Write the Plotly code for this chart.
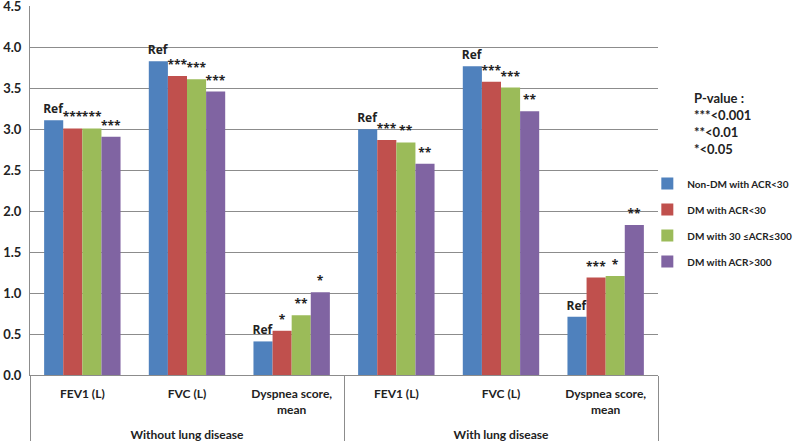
import plotly.graph_objects as go

groups = ["<br>Without lung disease"] * 3 + ["<br>With lung disease"] * 3
measures = ["FEV1 (L)", "FVC (L)", "Dyspnea score,<br>mean"] * 2

series_names = ["Non-DM with ACR<30", "DM with ACR<30", "DM with 30 ≤ACR≤300", "DM with ACR>300"]
non_dm_acr_lt30 = [3.11, 3.83, 0.41, 3.00, 3.77, 0.71]
dm_acr_lt30 = [3.01, 3.65, 0.54, 2.87, 3.58, 1.19]
dm_acr_30_300 = [3.01, 3.61, 0.73, 2.84, 3.51, 1.21]
dm_acr_gt300 = [2.91, 3.46, 1.01, 2.58, 3.22, 1.83]

sig_non_dm = ["Ref", "Ref", "Ref", "Ref", "Ref", "Ref"]
sig_dm_lt30 = ["***", "***", "*", "***", "***", "***"]
sig_dm_30_300 = ["***", "***", "**", "**", "***", "*"]
sig_dm_gt300 = ["***", "***", "*", "**", "**", "**"]

colors = ["#4F81BD", "#C0504D", "#9BBB59", "#8064A2"]
values = [non_dm_acr_lt30, dm_acr_lt30, dm_acr_30_300, dm_acr_gt300]
labels = [sig_non_dm, sig_dm_lt30, sig_dm_30_300, sig_dm_gt300]

font_family = "Lato"
bar_text_font = "Open Sans"

fig = go.Figure()
for name, vals, lab, col in zip(series_names, values, labels, colors):
    fig.add_trace(go.Bar(
        x=[groups, measures], y=vals, name=name, legendgroup=name,
        marker=dict(color=col, line=dict(width=0)),
        text=lab, textposition="outside", textangle=0,
        constraintext="none", cliponaxis=False,
        textfont=dict(family=bar_text_font, size=12, color="#222222", weight="bold"),
    ))

fig.update_layout(
    width=793, height=441,
    margin=dict(l=30, r=135, t=6, b=66, autoexpand=False),
    paper_bgcolor="white", plot_bgcolor="white",
    barmode="group", bargap=0.27, bargroupgap=0,
    font=dict(family=font_family, size=12, color="#222222"),
    showlegend=True,
    legend=dict(x=0.983, y=0.558, xanchor="left", yanchor="top",
                bgcolor="rgba(0,0,0,0)", traceorder="grouped",
                font=dict(family=font_family, size=10, color="#222222", weight="bold"),
                tracegroupgap=7, itemwidth=30),
    yaxis=dict(range=[0, 4.505], dtick=0.5, tickformat=".1f", automargin=False,
               showgrid=True, gridcolor="#8c8c8c", gridwidth=1,
               showline=True, linecolor="#8c8c8c", zeroline=False,
               ticks="", ticklen=0, ticklabeloverflow="allow", ticklabelstandoff=5,
               tickfont=dict(family=font_family, size=13, color="#222222", weight="bold")),
    xaxis=dict(type="multicategory", showline=True, linecolor="#8c8c8c", automargin=False,
               showdividers=True, dividercolor="#8c8c8c", dividerwidth=1,
               ticklabelstandoff=8,
               tickfont=dict(family=font_family, size=12, color="#222222", weight="bold")),
)

fig.add_annotation(
    xref="paper", yref="paper", x=1.054, y=0.778, xanchor="left", yanchor="top",
    text="P-value :<br>***<0.001<br>**<0.01<br>*<0.05", showarrow=False, align="left",
    font=dict(family=font_family, size=13, color="#222222", weight="bold"),
)

fig.write_html("out.html", config={"displayModeBar": False},
               post_script="document.body.style.margin='0';")
